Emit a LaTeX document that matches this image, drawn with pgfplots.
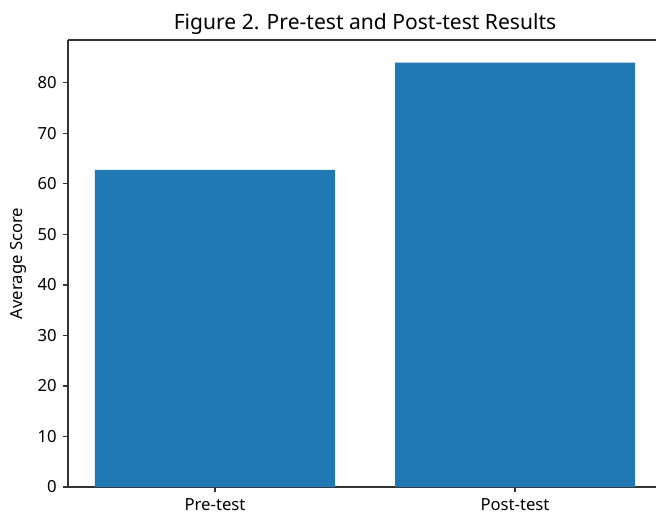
\documentclass[border=0pt]{standalone}
\usepackage{pgfplots}
\pgfplotsset{compat=1.18}
\usepackage{fontspec}
\setmainfont{Noto Sans}
\definecolor{mplblue}{HTML}{1F77B4}
\begin{document}
\begin{tikzpicture}
  \begin{axis}[
    name=ax,
    scale only axis,
    width=441pt, height=335.25pt,
    axis x line=box, axis y line=left,
    axis line style={-, black!80, line width=0.8pt},
    xmin=-0.49, xmax=1.47,
    ymin=0, ymax=88.5,
    enlargelimits=false,
    xtick={0,1}, xticklabels={Pre-test, Post-test},
    ytick={0,10,...,80},
    tick align=outside, xtick pos=bottom, ytick pos=left,
    major tick length=4pt,
    tick style={black!80, line width=0.8pt},
    ticklabel style={font=\fontsize{12.5}{13}\selectfont},
    /pgf/number format/assume math mode=true,
    yticklabel style={xshift=-1pt},
    xticklabel style={yshift=-1pt},
    ylabel={Average Score},
    every axis y label/.style={at={(axis description cs:-0.085,0.5)}, rotate=90, anchor=center, font=\fontsize{12.5}{13}\selectfont},
    title={Figure 2. Pre-test and Post-test Results},
    every axis title/.style={at={(axis description cs:0.5,1)}, anchor=base, xshift=2.25pt, yshift=7.5pt, font=\fontsize{15.8}{16}\selectfont},
    ybar, bar width=0.8,
    clip=false,
  ]
    \addplot[fill=mplblue, draw=none] coordinates {(0,62.8) (1,84.0)};
    \coordinate (bl) at (rel axis cs:0,0);
    \coordinate (tr) at (rel axis cs:1,1);
  \end{axis}
  \pgfresetboundingbox
  \path[use as bounding box] ([shift={(-51pt,-21pt)}]bl) rectangle ([shift={(0pt,30pt)}]tr);
\end{tikzpicture}
\end{document}
